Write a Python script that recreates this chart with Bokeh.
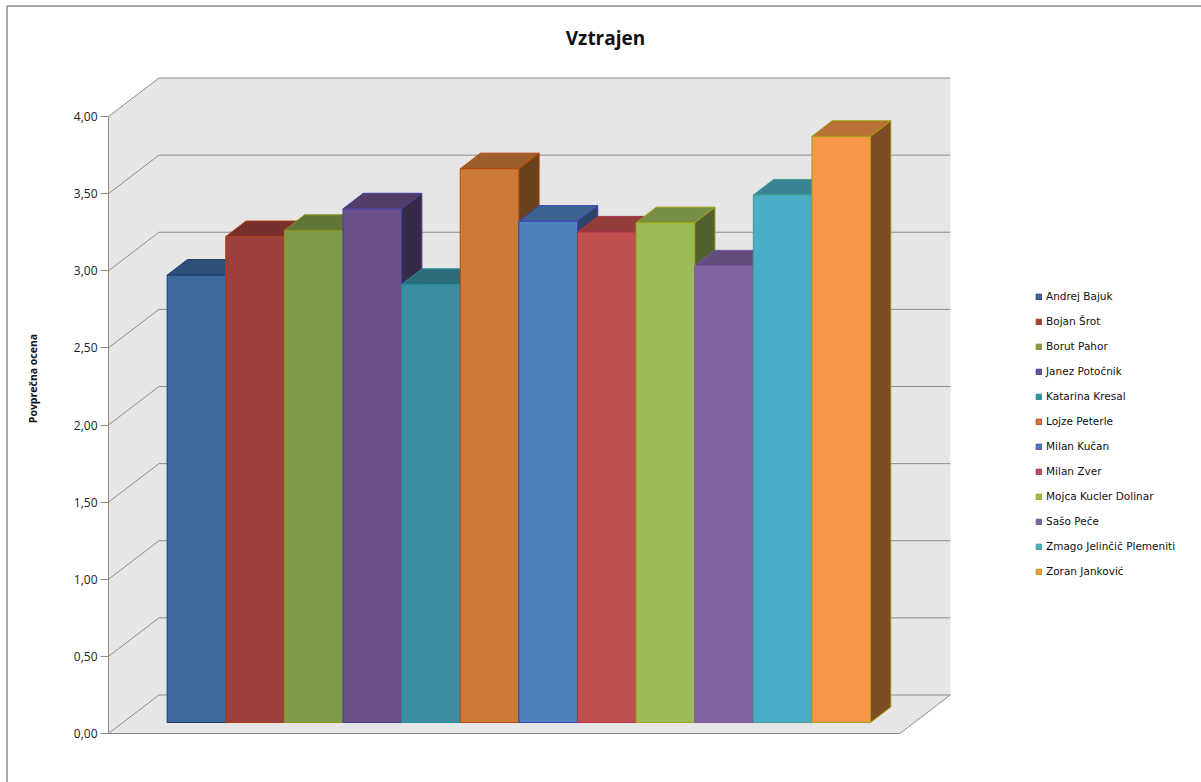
from math import pi

from bokeh.embed import file_html
from bokeh.models import (ColumnDataSource, FixedTicker, Label, Legend,
                          LegendItem, Range1d)
from bokeh.plotting import figure
from bokeh.resources import INLINE

# ---- data -------------------------------------------------------------
candidates = [
    "Andrej Bajuk", "Bojan Šrot", "Borut Pahor", "Janez Potočnik",
    "Katarina Kresal", "Lojze Peterle", "Milan Kučan", "Milan Zver",
    "Mojca Kucler Dolinar", "Sašo Peče", "Zmago Jelinčič Plemeniti",
    "Zoran Janković",
]
scores = [2.90, 3.15, 3.19, 3.33, 2.84, 3.59, 3.25, 3.18, 3.24, 2.96, 3.42, 3.80]

tick_values = [0.0, 0.5, 1.0, 1.5, 2.0, 2.5, 3.0, 3.5, 4.0]
tick_labels = ["0,00", "0,50", "1,00", "1,50", "2,00", "2,50", "3,00", "3,50", "4,00"]

# ---- colours (front face, top face, side face, edge) -----------------
front_colors = ["#3F6A9D", "#9C403E", "#7F9A48", "#6A5086", "#3B8BA1", "#CC7A37",
                "#4F81BD", "#C0504D", "#9BBB59", "#8064A2", "#4BACC6", "#F79646"]
top_colors = ["#2F5077", "#78302F", "#617536", "#513D67", "#2D6B7B", "#9E5E2A",
              "#3C6290", "#933D3B", "#768F44", "#624C7C", "#3A8397", "#BA7136"]
side_colors = ["#213754", "#532120", "#424F25", "#372A47", "#1F4A55", "#6B401D",
               "#2A4566", "#672A29", "#51622F", "#433555", "#285A68", "#7D4C24"]
edge_colors = ["#1F3C6A", "#A8400F", "#8E901C", "#4040A2", "#1E9090", "#B2470F",
               "#4040B4", "#B03050", "#A0A010", "#7A5AA8", "#40A090", "#A0A010"]

# ---- layout (canvas pixels) and 3-D box geometry (data units) --------
W, H = 1201, 782
AXIS_X, ZERO_Y = 108, 733            # front-left corner of the floor
PX_X, PX_Y = 58.62, 154.25           # pixels per x unit / per score unit
WALL_DX, WALL_DY = 0.861, 0.2496     # depth of the floor / walls
FLOOR_W = 13.5                       # width of the floor along the front
BAR_X0 = 1.0                         # left edge of the first column
BAR_BASE = 0.0713                    # columns stand a little behind the front edge
BAR_DX, BAR_DY = 0.346, 0.101        # depth of each column


def dx(px):
    return (px - AXIS_X) / PX_X


def dy(py):
    return (ZERO_Y - py) / PX_Y


p = figure(
    width=W, height=H,
    x_range=Range1d(dx(0), dx(W)), y_range=Range1d(dy(H), dy(0)),
    x_axis_location=None, toolbar_location=None, output_backend="svg",
    min_border=0, background_fill_color="white", border_fill_color="white",
)
p.outline_line_color = None
p.grid.visible = False

# outer chart-area border (left and top edges)
p.multi_line([[dx(6.5), dx(6.5)], [dx(6.5), dx(W)]],
             [[dy(H), dy(5.5)], [dy(5.5), dy(5.5)]],
             line_color="#8C8C8C", line_width=1.5)

# walls and floor as one grey backdrop
top_v = tick_values[-1]
wall_x = [0, 0, WALL_DX, WALL_DX + FLOOR_W, WALL_DX + FLOOR_W, FLOOR_W]
wall_y = [0, top_v, top_v + WALL_DY, top_v + WALL_DY, WALL_DY, 0]
p.patch(wall_x, wall_y, fill_color="#E6E6E6", line_alpha=0)

# gridlines: diagonal on the side wall, horizontal on the back wall
grid_xs = [[0, WALL_DX, WALL_DX + FLOOR_W] for _ in tick_values]
grid_ys = [[v, v + WALL_DY, v + WALL_DY] for v in tick_values]
grid_xs.append([0, FLOOR_W, FLOOR_W + WALL_DX])
grid_ys.append([0, 0, WALL_DY])
p.multi_line(grid_xs, grid_ys, line_color="#8C8C8C", line_width=1)

# columns
lefts = [BAR_X0 + i for i in range(len(scores))]
rights = [x + 1 for x in lefts]
tops = [BAR_BASE + s for s in scores]

side_src = ColumnDataSource(dict(
    xs=[[r, r + BAR_DX, r + BAR_DX, r] for r in rights],
    ys=[[BAR_BASE, BAR_BASE + BAR_DY, t + BAR_DY, t] for t in tops],
    fill=side_colors, edge=edge_colors,
))
top_src = ColumnDataSource(dict(
    xs=[[l, r, r + BAR_DX, l + BAR_DX] for l, r in zip(lefts, rights)],
    ys=[[t, t, t + BAR_DY, t + BAR_DY] for t in tops],
    fill=top_colors, edge=edge_colors,
))
front_src = ColumnDataSource(dict(
    left=lefts, right=rights, bottom=[BAR_BASE] * len(scores), top=tops,
    fill=front_colors, edge=edge_colors, name=candidates, score=scores,
))
p.patches("xs", "ys", source=side_src, fill_color="fill", line_color="edge", line_width=1)
p.patches("xs", "ys", source=top_src, fill_color="fill", line_color="edge", line_width=1)
fronts = p.quad(left="left", right="right", bottom="bottom", top="top", source=front_src,
                fill_color="fill", line_color="edge", line_width=1)

# value axis pinned to the front-left edge of the floor
yax = p.yaxis[0]
yax.fixed_location = 0
yax.bounds = (tick_values[0], tick_values[-1])
yax.ticker = FixedTicker(ticks=tick_values, minor_ticks=[])
yax.major_label_overrides = {v: lab for v, lab in zip(tick_values, tick_labels)}
yax.axis_line_color = "#8C8C8C"
yax.major_tick_line_color = "#8C8C8C"
yax.major_tick_out = 8
yax.major_tick_in = 0
yax.minor_tick_line_color = None
yax.major_label_standoff = 3
yax.major_label_text_font = "Open Sans"
yax.major_label_text_font_size = "12px"
yax.major_label_text_color = "#222222"

# titles
p.add_layout(Label(x=dx(605), y=dy(37), text="Vztrajen",
                   text_align="center", text_baseline="middle", text_font="Open Sans",
                   text_font_style="bold", text_font_size="19px", text_color="#111111"))
p.add_layout(Label(x=dx(32), y=dy(378), text="Povprečna ocena",
                   angle=pi / 2, text_align="center", text_baseline="middle",
                   text_font="Open Sans", text_font_style="bold", text_font_size="10.5px",
                   text_color="#111111"))

legend = Legend(
    items=[LegendItem(label=name, renderers=[fronts], index=i) for i, name in enumerate(candidates)],
    location=(1035, 204), glyph_width=7, glyph_height=7, label_height=14, spacing=11,
    padding=0, margin=0, label_standoff=4, border_line_alpha=0, background_fill_alpha=0,
    label_text_font="DejaVu Sans", label_text_font_size="10.5px", label_text_color="#111111",
)
p.add_layout(legend)

open("out.html", "w").write(file_html(p, INLINE))
